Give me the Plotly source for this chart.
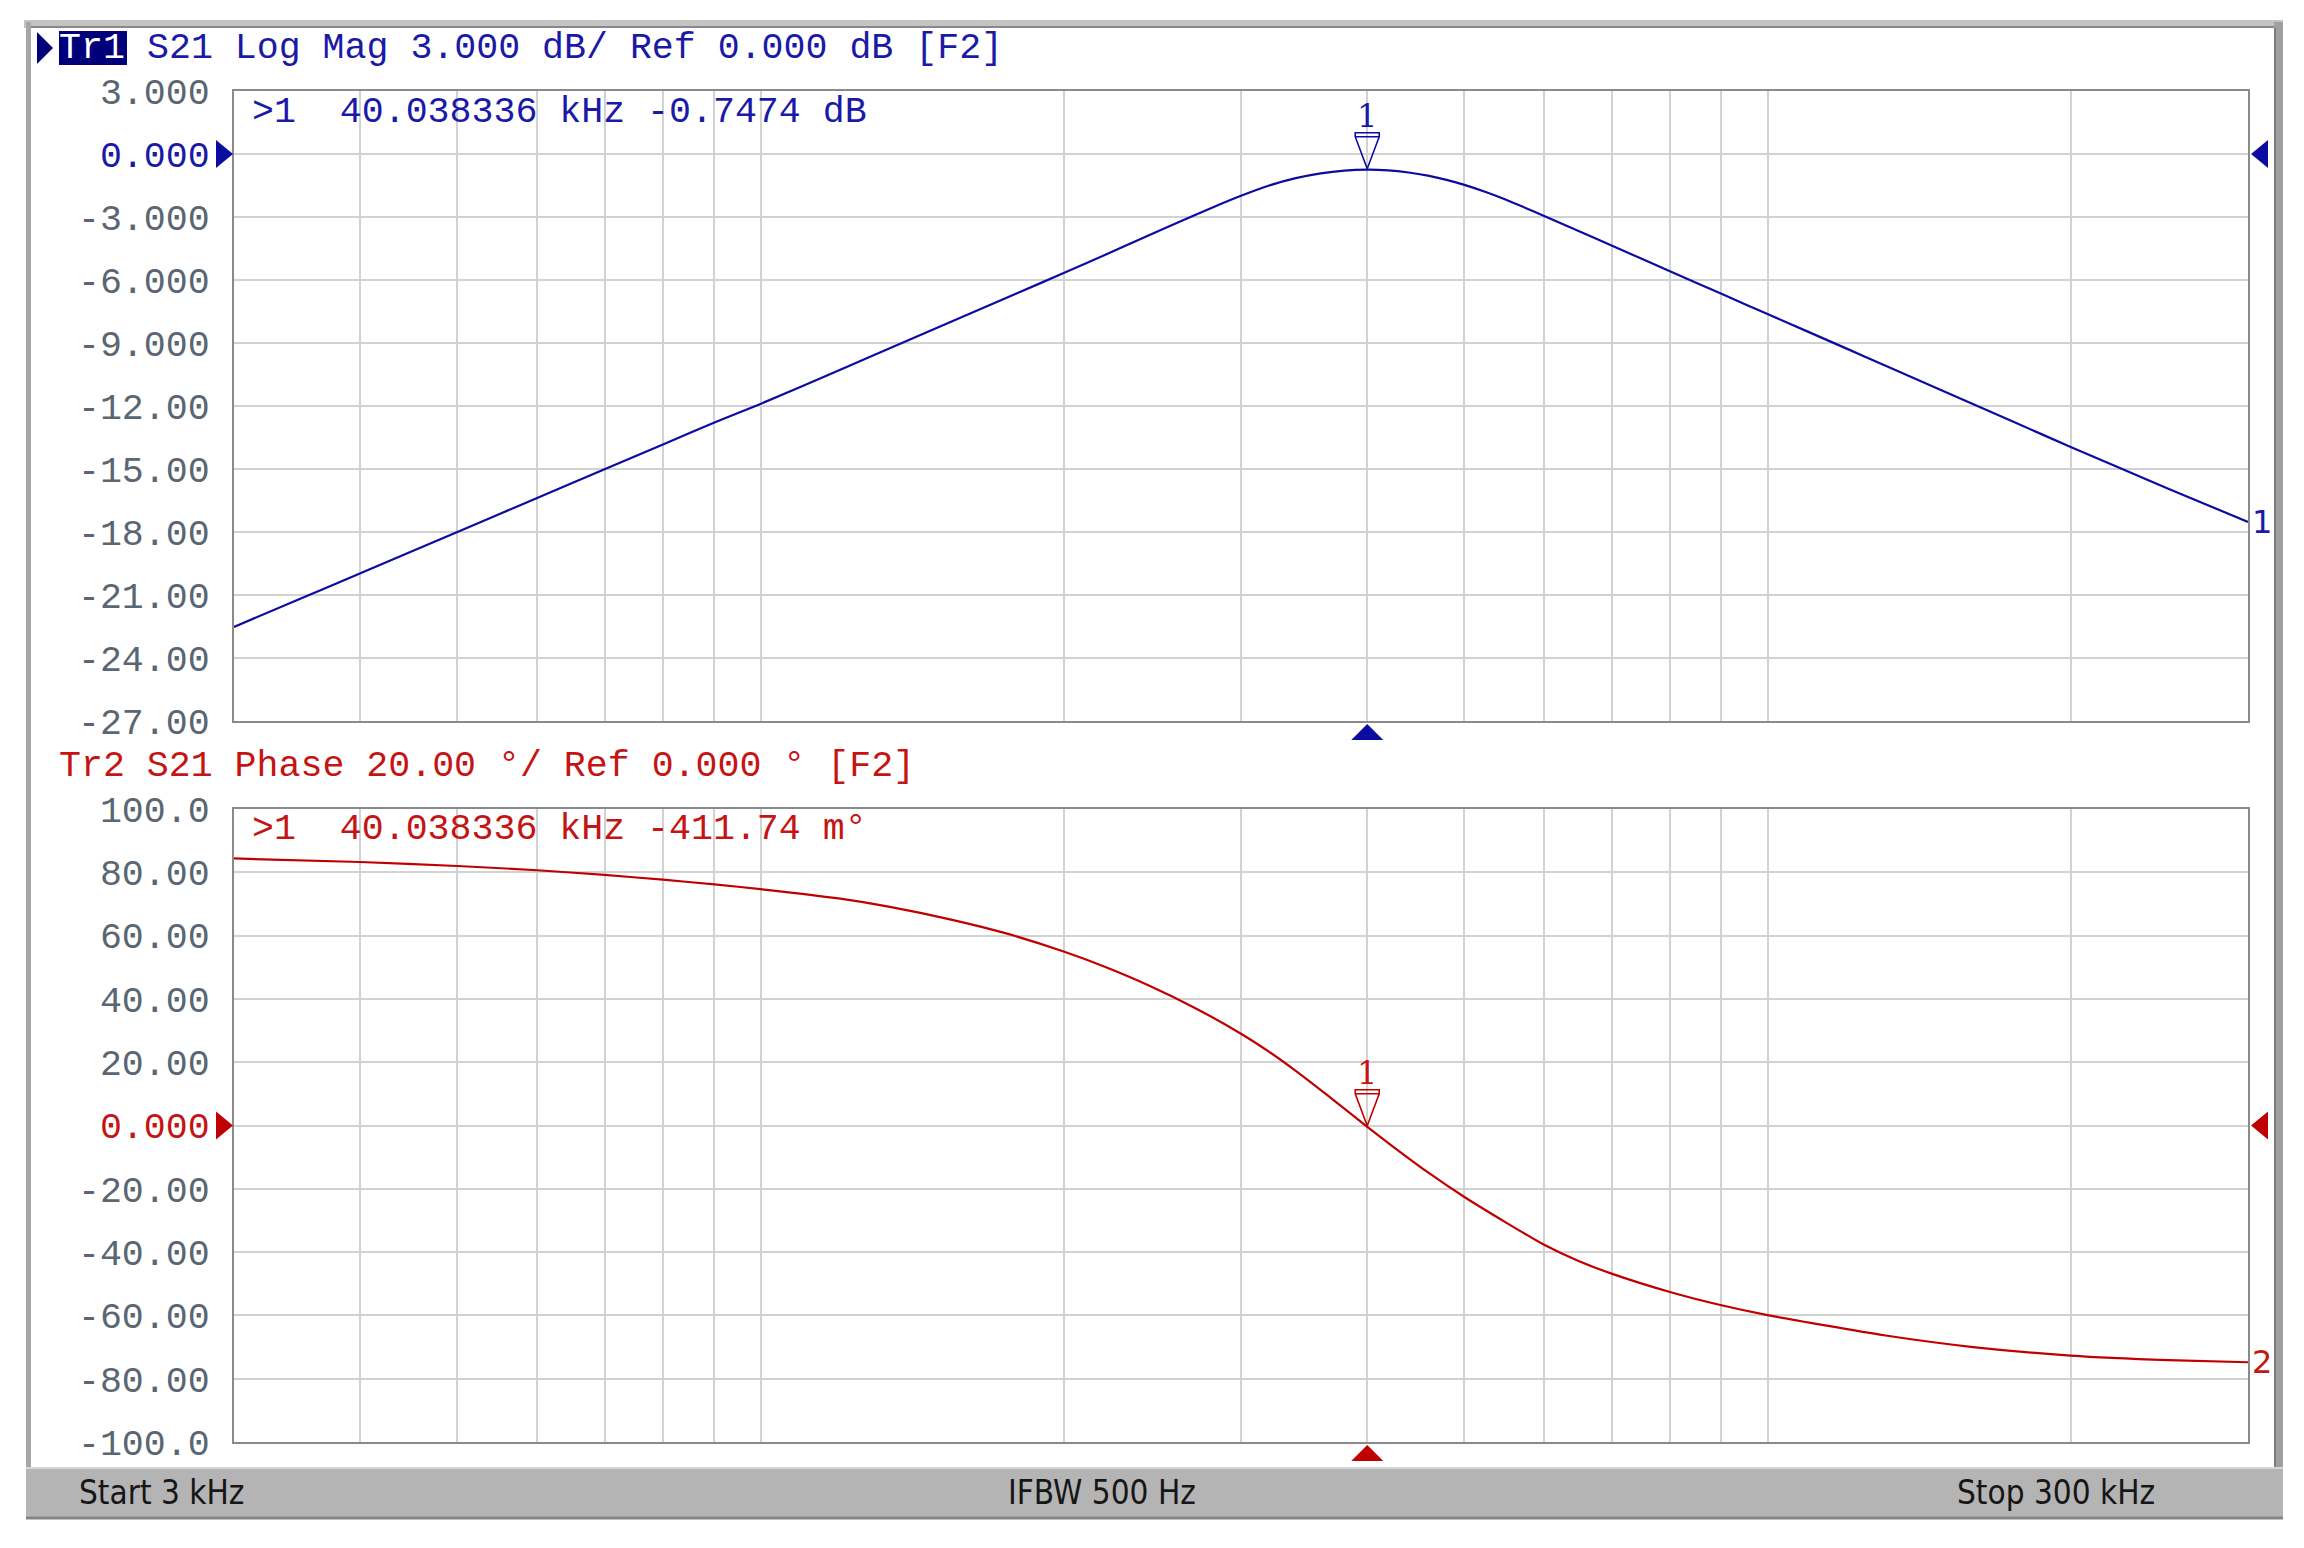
import numpy as np
import plotly.graph_objects as go

# ---------------- data ----------------
mag_freq_khz = [3, 3.5, 4, 5, 6, 7, 8, 9, 10, 12, 14, 16, 18, 20, 22, 24, 26, 28, 30,
                32, 34, 36, 38, 40.04, 42, 44, 46, 48, 50, 52.5, 55, 57.5, 60, 65, 70,
                80, 90, 100, 120, 131, 150, 175, 200, 250, 300]
s21_mag_db = [-22.52, -21.15, -19.98, -18.0, -16.38, -15.01, -13.83, -12.79, -11.9,
              -10.27, -8.88, -7.68, -6.62, -5.67, -4.8, -3.99, -3.25, -2.58, -1.99,
              -1.5, -1.15, -0.92, -0.79, -0.7474, -0.78, -0.88, -1.03, -1.23, -1.47,
              -1.81, -2.18, -2.57, -2.95, -3.68, -4.36, -5.58, -6.66, -7.62, -9.28,
              -10.08, -11.32, -12.73, -13.95, -15.94, -17.52]

phase_freq_khz = [3, 4, 5, 6, 7, 8, 9, 10, 12, 13.4, 15.5, 17.5, 20, 22, 24.3, 27, 30,
                  32, 34, 36.6, 38, 40.04, 42.4, 45.9, 50, 55, 60, 65, 70, 80, 90, 100,
                  131, 160, 200, 250, 300]
s21_phase_deg = [84.37, 83.25, 81.99, 80.64, 79.17, 77.66, 76.18, 74.67, 71.66, 69.16,
                 64.99, 60.77, 54.97, 50.08, 44.25, 37.15, 29.0, 23.26, 17.26, 9.42,
                 5.31, -0.41, -6.5, -14.6, -22.6, -30.67, -37.65, -42.87, -46.8, -52.6,
                 -56.8, -59.9, -66.35, -70.0, -72.7, -74.15, -74.8]

start_khz = 3
stop_khz = 300
grid_khz = [4, 5, 6, 7, 8, 9, 10, 20, 30, 40, 50, 60, 70, 80, 90, 100, 200]

mag_ticks = [3, 0, -3, -6, -9, -12, -15, -18, -21, -24, -27]
mag_ticktext = ["3.000", "0.000", "-3.000", "-6.000", "-9.000", "-12.00", "-15.00",
                "-18.00", "-21.00", "-24.00", "-27.00"]
phase_ticks = [100, 80, 60, 40, 20, 0, -20, -40, -60, -80, -100]
phase_ticktext = ["100.0", "80.00", "60.00", "40.00", "20.00", "0.000", "-20.00",
                  "-40.00", "-60.00", "-80.00", "-100.0"]
mag_ref = 0.0
phase_ref = 0.0

marker_freq_khz = 40.038336
marker_mag_db = -0.7474
marker_phase_deg = -0.41174

title1 = "S21 Log Mag 3.000 dB/ Ref 0.000 dB [F2]"
title2 = "Tr2 S21 Phase 20.00 °/ Ref 0.000 ° [F2]"
readout1 = ">1  40.038336 kHz -0.7474 dB"
readout2 = ">1  40.038336 kHz -411.74 m°"
status_left = "Start 3 kHz"
status_mid = "IFBW 500 Hz"
status_right = "Stop 300 kHz"

# ---------------- style ----------------
W, H = 2304, 1548
OFF = 8  # page body margin compensation
BLUE = "#0c0ca0"
BLUE_T = "#1a1aa6"
RED = "#c00000"
RED_T = "#c41414"
GRID = "#d2d2d2"
TICKC = "#5a6672"
MONO = "Liberation Mono, DejaVu Sans Mono, monospace"
FS = 36.6
NARROW = "Liberation Sans Narrow, DejaVu Sans Condensed, Liberation Sans, sans-serif"


def X(px):
    return (px - OFF) / W


def Y(py):
    return 1 - (py - OFF) / H


fig = go.Figure()
fig.add_trace(go.Scatter(x=mag_freq_khz, y=s21_mag_db, mode="lines",
                         line=dict(color=BLUE, width=2.2, shape="spline", smoothing=0.6),
                         xaxis="x", yaxis="y", hoverinfo="skip"))
fig.add_trace(go.Scatter(x=phase_freq_khz, y=s21_phase_deg, mode="lines",
                         line=dict(color=RED, width=2.2, shape="spline", smoothing=0.6),
                         xaxis="x2", yaxis="y2", hoverinfo="skip"))

xdom = [X(234), X(2248)]
ydom1 = [Y(721), Y(91)]
ydom2 = [Y(1442), Y(809)]

xcommon = dict(type="log", range=[np.log10(start_khz), np.log10(stop_khz)],
               domain=xdom, tickvals=grid_khz, showticklabels=False, ticks="",
               showgrid=True, gridcolor=GRID, gridwidth=2, zeroline=False,
               showline=True, mirror=True, linecolor="#8a8a8a", linewidth=2,
               automargin=False)


def ycommon(ticks, text, dom, anchor):
    return dict(range=[min(ticks), max(ticks)], domain=dom, tickvals=ticks,
                ticktext=text, ticks="", ticklabelstandoff=15, showgrid=True,
                gridcolor=GRID, gridwidth=2, zeroline=False, showline=True,
                mirror=True, linecolor="#8a8a8a", linewidth=2, anchor=anchor,
                automargin=False,
                tickfont=dict(family=MONO, size=FS, color=TICKC))


mag_text = [f'<span style="color:{BLUE_T}">{t}</span>' if v == mag_ref else t
            for v, t in zip(mag_ticks, mag_ticktext)]
phase_text = [f'<span style="color:{RED_T}">{t}</span>' if v == phase_ref else t
              for v, t in zip(phase_ticks, phase_ticktext)]

fig.update_layout(
    width=W, height=H, margin=dict(l=0, r=0, t=0, b=0, pad=0, autoexpand=False),
    paper_bgcolor="white", plot_bgcolor="white", showlegend=False,
    xaxis=dict(**xcommon, anchor="y"),
    xaxis2=dict(**xcommon, anchor="y2"),
    yaxis=ycommon(mag_ticks, mag_text, ydom1, "x"),
    yaxis2=ycommon(phase_ticks, phase_text, ydom2, "x2"),
)

shapes = []
# outer frame (bevel)
shapes.append(dict(type="rect", xref="paper", yref="paper", x0=X(24), x1=X(2283),
                   y0=Y(28), y1=Y(20), fillcolor="#c4c4c4", line_width=0, layer="below"))
shapes.append(dict(type="line", xref="paper", yref="paper", x0=X(26), x1=X(2283),
                   y0=Y(27), y1=Y(27), line=dict(color="#888888", width=2), layer="below"))
shapes.append(dict(type="rect", xref="paper", yref="paper", x0=X(26), x1=X(31),
                   y0=Y(1467), y1=Y(22), fillcolor="#a6a6a6", line_width=0, layer="below"))
shapes.append(dict(type="rect", xref="paper", yref="paper", x0=X(2274), x1=X(2283),
                   y0=Y(1467), y1=Y(22), fillcolor="#a0a0a0", line_width=0, layer="below"))
shapes.append(dict(type="line", xref="paper", yref="paper", x0=X(2275), x1=X(2275),
                   y0=Y(1467), y1=Y(28), line=dict(color="#7c7c7c", width=2), layer="below"))
# status bar
shapes.append(dict(type="rect", xref="paper", yref="paper", x0=X(26), x1=X(2283),
                   y0=Y(1519), y1=Y(1467), fillcolor="#b4b4b4", line_width=0, layer="below"))
shapes.append(dict(type="line", xref="paper", yref="paper", x0=X(26), x1=X(2283),
                   y0=Y(1468), y1=Y(1468), line=dict(color="#d6d6d6", width=2), layer="below"))
shapes.append(dict(type="line", xref="paper", yref="paper", x0=X(26), x1=X(2283),
                   y0=Y(1518), y1=Y(1518), line=dict(color="#858585", width=3), layer="below"))
# active trace indicator + Tr1 box
shapes.append(dict(type="path", xref="paper", yref="paper",
                   path=f"M {X(37)} {Y(32)} L {X(53)} {Y(48)} L {X(37)} {Y(64)} Z",
                   fillcolor="#00007a", line_width=0))
shapes.append(dict(type="rect", xref="paper", yref="paper", x0=X(59), x1=X(127),
                   y0=Y(65), y1=Y(31), fillcolor="#00007a", line_width=0))

# reference level arrows
for xr, yr, ref, col in [("x domain", "y", mag_ref, BLUE), ("x2 domain", "y2", phase_ref, RED)]:
    shapes.append(dict(type="path", xref=xr, xsizemode="pixel", xanchor=0,
                       yref=yr, ysizemode="pixel", yanchor=ref,
                       path="M -18 14 L -1 0 L -18 -14 Z", fillcolor=col, line_width=0))
    shapes.append(dict(type="path", xref=xr, xsizemode="pixel", xanchor=1,
                       yref=yr, ysizemode="pixel", yanchor=ref,
                       path="M 20 14 L 3 0 L 20 -14 Z", fillcolor=col, line_width=0))

# marker symbols on traces
for xr, yr, val, col in [("x", "y", marker_mag_db, BLUE), ("x2", "y2", marker_phase_deg, RED)]:
    shapes.append(dict(type="path", xref=xr, xsizemode="pixel", xanchor=marker_freq_khz,
                       yref=yr, ysizemode="pixel", yanchor=val,
                       path="M -12 37 L 12 37 L 12 33 L 0 1 L -12 33 Z M -12 33 L 12 33",
                       fillcolor="rgba(0,0,0,0)", line=dict(color=col, width=1.6)))
    # stimulus marker arrow under the grid
    shapes.append(dict(type="path", xref=xr, xsizemode="pixel", xanchor=marker_freq_khz,
                       yref=yr + " domain", ysizemode="pixel", yanchor=0,
                       path="M -16 -19 L 16 -19 L 0 -3 Z", fillcolor=col, line_width=0))

fig.update_layout(shapes=shapes)

ann = []
ann.append(dict(xref="paper", yref="paper", x=X(57), y=Y(48), xanchor="left", yanchor="middle",
                text="Tr1", showarrow=False, font=dict(family=MONO, size=FS, color="white")))
ann.append(dict(xref="paper", yref="paper", x=X(145), y=Y(48), xanchor="left", yanchor="middle",
                text=title1, showarrow=False, font=dict(family=MONO, size=FS, color=BLUE_T)))
ann.append(dict(xref="paper", yref="paper", x=X(57), y=Y(766), xanchor="left", yanchor="middle",
                text=title2, showarrow=False, font=dict(family=MONO, size=FS, color=RED_T)))
ann.append(dict(xref="paper", yref="paper", x=X(250), y=Y(112), xanchor="left", yanchor="middle",
                text=readout1, showarrow=False, font=dict(family=MONO, size=FS, color=BLUE_T)))
ann.append(dict(xref="paper", yref="paper", x=X(250), y=Y(829), xanchor="left", yanchor="middle",
                text=readout2, showarrow=False, font=dict(family=MONO, size=FS, color=RED_T)))
# marker numbers
for xr, yr, val, col in [("x", "y", marker_mag_db, BLUE_T), ("x2", "y2", marker_phase_deg, RED_T)]:
    ann.append(dict(xref=xr, yref=yr, x=np.log10(marker_freq_khz), y=val, yshift=54,
                    text="1", showarrow=False,
                    font=dict(family="DejaVu Serif, Liberation Serif, serif", size=32, color=col)))
# trace end labels
ann.append(dict(xref="x", yref="y", x=np.log10(mag_freq_khz[-1]), y=s21_mag_db[-1], xanchor="left",
                xshift=2, text="1", showarrow=False,
                font=dict(family="DejaVu Sans, sans-serif", size=32, color=BLUE_T)))
ann.append(dict(xref="x2", yref="y2", x=np.log10(phase_freq_khz[-1]), y=s21_phase_deg[-1],
                xanchor="left", xshift=2, text="2", showarrow=False,
                font=dict(family="DejaVu Sans, sans-serif", size=32, color=RED_T)))
# status bar
sb_font = dict(family=NARROW, size=33, color="#161616")
ann.append(dict(xref="paper", yref="paper", x=X(77), y=Y(1492), xanchor="left", yanchor="middle",
                text=status_left, showarrow=False, font=sb_font))
ann.append(dict(xref="paper", yref="paper", x=X(1102), y=Y(1492), xanchor="center", yanchor="middle",
                text=status_mid, showarrow=False, font=sb_font))
ann.append(dict(xref="paper", yref="paper", x=X(2157), y=Y(1492), xanchor="right", yanchor="middle",
                text=status_right, showarrow=False, font=sb_font))
fig.update_layout(annotations=ann)

fig.write_html("out.html")
